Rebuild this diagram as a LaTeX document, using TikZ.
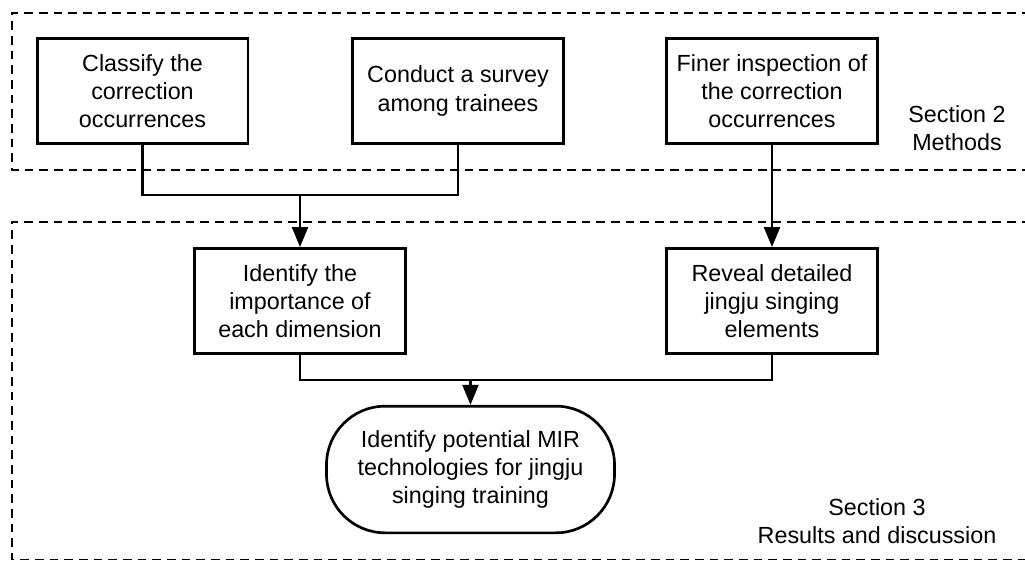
\documentclass[tikz,border=0pt]{standalone}
\usepackage{fontspec}
\setmainfont{Liberation Sans}
\usetikzlibrary{arrows.meta}

\begin{document}
\begin{tikzpicture}[x=0.75pt,y=0.75pt,yscale=-1,xscale=1,
  stepbox/.style={draw, line width=2pt, minimum width=158pt, minimum height=79pt, align=center, inner sep=2pt, font=\fontsize{17.5}{21.2}\selectfont},
  endbox/.style={draw, line width=2pt, rounded corners=44pt, minimum width=216pt, minimum height=95pt, align=center, inner sep=2pt, font=\fontsize{17.5}{21.2}\selectfont},
  sectext/.style={align=center, inner sep=0.75pt, font=\fontsize{17.5}{21.2}\selectfont},
  region/.style={line width=1.4pt, dash pattern={on 6.5pt off 4.5pt}},
  link/.style={line width=1.8pt},
  arrow/.style={line width=1.8pt, -{Triangle[length=15pt,width=12pt]}}]
\useasboundingbox (0,0) rectangle (1025,561);

%Dashed regions
\draw [region] (1045,13) -- (12,13) -- (12,170) -- (1045,170) ;
\draw [region] (1045,222) -- (12,222) -- (12,559.5) -- (1045,559.5) ;

% Section 2 nodes
\node [stepbox] (cls) at (142.5,91) {Classify the\\correction\\occurrences};
\node [stepbox] (survey) at (458,91) {Conduct a survey\\among trainees};
\node [stepbox] (finer) at (772,91) {Finer inspection of\\the correction\\occurrences};

% Section 3 nodes
\node [stepbox] (importance) at (300,301) {Identify the\\importance of\\each dimension};
\node [stepbox] (reveal) at (772,301) {Reveal detailed\\jingju singing\\elements};
\node [endbox] (mir) at (470.5,469.5) {Identify potential MIR\\technologies for jingju\\singing training};

% Text Node
\node [sectext] (sec2) at (957,128) {Section 2\\Methods};
% Text Node
\node [sectext] (sec3) at (877,521) {Section 3\\Results and discussion};

%Connectors
\coordinate (jtop) at (300,195);
\coordinate (jbot) at (470.5,380);
\draw [link] (cls.south) |- (jtop) -| (survey.south);
\draw [arrow] (jtop) -- (importance.north);
\draw [arrow] (finer.south) -- (reveal.north);
\draw [link] (importance.south) |- (jbot) -| (reveal.south);
\draw [arrow] (jbot) -- (mir.north);

\end{tikzpicture}
\end{document}
